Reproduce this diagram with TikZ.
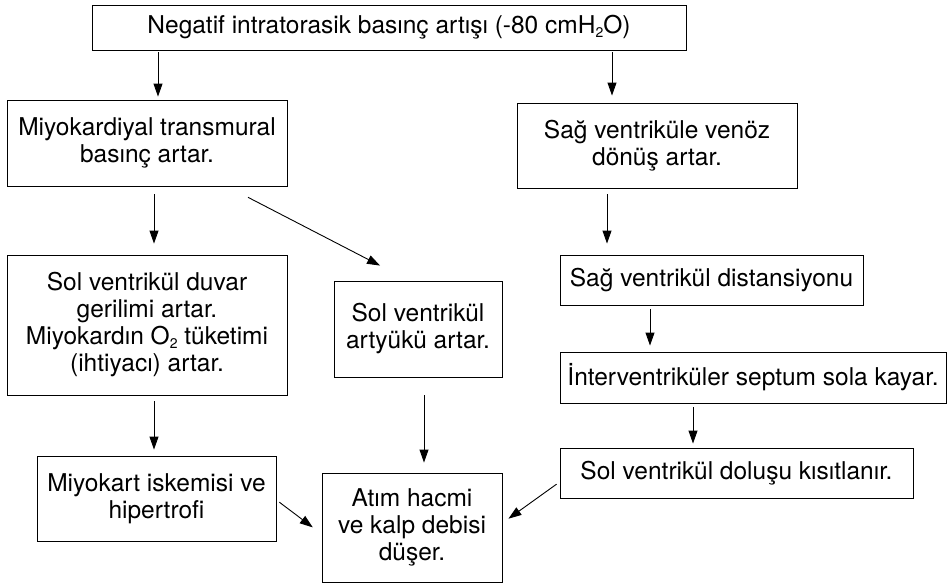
\documentclass[tikz,border=0pt]{standalone}
\usepackage{fontspec}
\setmainfont{TeX Gyre Heros}
\usetikzlibrary{arrows.meta}
\newcommand{\subtwo}{\raisebox{-0.25ex}{\fontsize{14}{14}\selectfont 2}}
\begin{document}
\begin{tikzpicture}[x=1pt,y=-1pt,
  box/.style={draw=black, line width=0.9pt, align=center, inner sep=0pt,
    font=\fontsize{24.5}{27}\selectfont},
  arr/.style={draw=black, line width=0.9pt, -{Triangle[length=13pt,width=9pt]}}]
\useasboundingbox (0,0) rectangle (948,584);
% boxes (centre, size)
\node[box, minimum width=594pt, minimum height=45pt] (top) at (389,27.5) {Negatif intratorasik basınç artışı (-80 cmH\subtwo O)};
\node[box, minimum width=280pt, minimum height=86pt] (m1) at (147,143) {Miyokardiyal transmural\\basınç artar.};
\node[box, minimum width=280pt, minimum height=85pt] (s1) at (657,145.5) {Sağ ventriküle venöz\\dönüş artar.};
\node[box, minimum width=280pt, minimum height=140pt] (duvar) at (147,325) {Sol ventrikül duvar\\gerilimi artar.\\Miyokardın O\subtwo{} tüketimi\\(ihtiyacı) artar.};
\node[box, minimum width=168pt, minimum height=96pt] (art) at (418,329) {Sol ventrikül\\artyükü artar.};
\node[box, minimum width=303pt, minimum height=50pt] (dist) at (711.5,280) {Sağ ventrikül distansiyonu};
\node[box, minimum width=386pt, minimum height=51pt] (interv) at (753,377.5) {İnterventriküler septum sola kayar.};
\node[box, minimum width=353pt, minimum height=50pt] (dol) at (736.5,473) {Sol ventrikül doluşu kısıtlanır.};
\node[box, minimum width=239pt, minimum height=85pt] (misk) at (156.5,498.5) {Miyokart iskemisi ve\\hipertrofi};
\node[box, minimum width=180pt, minimum height=109pt] (atim) at (412,527.5) {Atım hacmi\\ve kalp debisi\\düşer.};
% helper coordinates for connector positions
\coordinate (xa) at (158,0);
\coordinate (xb) at (612,0);
\coordinate (xc) at (154,0);
\coordinate (xd) at (607,0);
\coordinate (xe) at (424,0);
\coordinate (xf) at (650,0);
\coordinate (xg) at (693,0);
\coordinate (da) at (227,0);
\coordinate (db) at (409,0);
\coordinate (ya) at (0,500);
\coordinate (yb) at (0,534);
\coordinate (yc) at (0,482);
\coordinate (yd) at (0,523);
% connectors
\draw[arr, shorten <=2pt, shorten >=3pt] (top.south -| xa) -- (m1.north -| xa);
\draw[arr, shorten <=2pt, shorten >=7pt] (top.south -| xb) -- (s1.north -| xb);
\draw[arr, shorten <=8pt, shorten >=11pt] (m1.south -| xc) -- (duvar.north -| xc);
\draw[arr, shorten <=23.7pt, shorten >=32.6pt] (m1.south -| da) -- (art.north -| db);
\draw[arr, shorten <=6pt, shorten >=11pt] (s1.south -| xd) -- (dist.north -| xd);
\draw[arr, shorten <=6pt, shorten >=6pt] (duvar.south -| xc) -- (misk.north -| xc);
\draw[arr, shorten <=18pt, shorten >=10pt] (art.south -| xe) -- (atim.north -| xe);
\draw[arr, shorten <=4pt, shorten >=6pt] (dist.south -| xf) -- (interv.north -| xf);
\draw[arr, shorten <=4pt, shorten >=4pt] (interv.south -| xg) -- (dol.north -| xg);
\draw[arr, shorten <=3.6pt, shorten >=11pt] (misk.east |- ya) -- (atim.west |- yb);
\draw[arr, shorten <=3.7pt, shorten >=7.4pt] (dol.west |- yc) -- (atim.east |- yd);
\end{tikzpicture}
\end{document}
